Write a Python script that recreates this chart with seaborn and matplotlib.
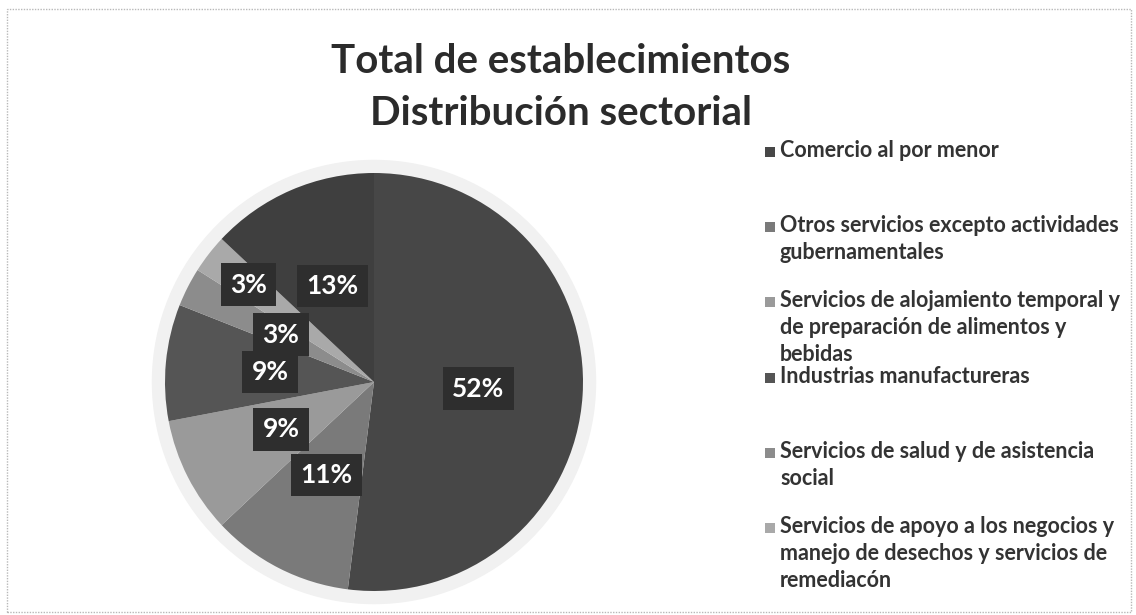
import matplotlib
matplotlib.use("Agg")
import matplotlib.pyplot as plt
import seaborn as sns
from matplotlib.patches import Rectangle, Circle

# -------------------------------
# Data
# -------------------------------
sectors = [
    "Comercio al por menor",
    "Otros servicios excepto actividades\ngubernamentales",
    "Servicios de alojamiento temporal y\nde preparación de alimentos y\nbebidas",
    "Industrias manufactureras",
    "Servicios de salud y de asistencia\nsocial",
    "Servicios de apoyo a los negocios y\nmanejo de desechos y servicios de\nremediacón",
    "Otros sectores",
]
shares = [52, 11, 9, 9, 3, 3, 13]
gray_colors = ["#474747", "#7a7a7a", "#9a9a9a", "#555555", "#8c8c8c", "#a9a9a9", "#3f3f3f"]
legend_shown = 6  # the last entry is cut off in the original

# -------------------------------
# Figure
# -------------------------------
sns.set_theme(style="white")
plt.rcParams["font.family"] = ["Lato", "DejaVu Sans"]

W, H = 1136, 615
fig = plt.figure(figsize=(W / 100, H / 100), dpi=100)
fig.patch.set_facecolor("white")

# outer chart frame
fig.add_artist(Rectangle((7 / W, 3 / H), (W - 12) / W, (H - 12) / H, transform=fig.transFigure,
                         fill=False, edgecolor="#b8b8b8", lw=1.0, linestyle=(0, (1, 1))))

# pie axes: centre (374, 382) px, radius ~209 px
R = 209
ax = fig.add_axes([(374 - 1.1 * R) / W, (H - 382 - 1.1 * R) / H, 2.2 * R / W, 2.2 * R / H])

# soft halo around the pie
ax.add_patch(Circle((0, 0), 1.06, color="#f1f1f1", zorder=0))

wedges, texts, autotexts = ax.pie(
    shares,
    colors=sns.color_palette(gray_colors),
    startangle=90,
    counterclock=False,
    autopct="%1.0f%%",
    pctdistance=0.5,
    wedgeprops=dict(linewidth=0),
    textprops=dict(color="white", fontsize=19, fontweight="bold"),
)
for t in autotexts:
    t.set_bbox(dict(boxstyle="square,pad=0.35", fc="#2e2e2e", ec="none"))
# the small "Servicios de apoyo" label sits further out
x, y = autotexts[5].get_position()
autotexts[5].set_position((x * 1.52, y * 1.52))

ax.set_xlim(-1.1, 1.1)
ax.set_ylim(-1.1, 1.1)
ax.set_aspect("equal")
ax.axis("off")

# title
fig.text(561 / W, (H - 73) / H, "Total de establecimientos", ha="center", va="baseline",
         fontsize=29, fontweight="bold", color="#2b2b2b")
fig.text(561 / W, (H - 125) / H, "Distribución sectorial", ha="center", va="baseline",
         fontsize=29, fontweight="bold", color="#2b2b2b")

# legend, evenly spaced entries (top aligned like the original)
first_y = 152
step = 75.2
for i in range(legend_shown):
    yc = first_y + i * step
    fig.add_artist(Rectangle((765 / W, (H - yc - 5) / H), 10 / W, 10 / H,
                             transform=fig.transFigure, color=gray_colors[i], lw=0))
    fig.text(780 / W, (H - yc + 12) / H, sectors[i], ha="left", va="top",
             fontsize=15.5, fontweight="bold", color="#333333", linespacing=1.35)

fig.savefig("out.png", dpi=100)
